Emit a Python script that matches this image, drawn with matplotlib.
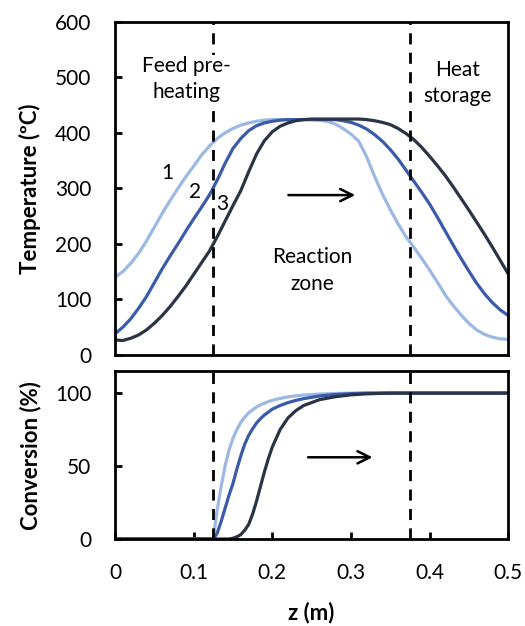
import numpy as np
import matplotlib
matplotlib.use('Agg')
import matplotlib.pyplot as plt

plt.rcParams['font.family'] = ['Lato', 'DejaVu Sans']

# temperature profiles (z every 0.01 m)
z_T = [round(0.01 * i, 2) for i in range(51)]
T1 = [140, 150, 165, 183, 205, 230, 255, 278, 300, 321,
      340, 360, 376, 390, 400, 408, 414, 418, 421, 423,
      424, 424, 424, 424, 424, 424, 423, 421, 416, 408,
      398, 385, 357, 322, 290, 262, 236, 213, 194, 174,
      153, 131, 108, 89, 72, 57, 45, 37, 32, 29, 28]
T2 = [38, 50, 65, 84, 105, 130, 155, 178, 200, 223,
      245, 266, 288, 315, 345, 372, 390, 404, 413, 418,
      421, 423, 424, 424, 424, 424, 424, 424, 424, 422,
      419, 414, 407, 397, 385, 370, 353, 333, 313, 293,
      272, 248, 223, 198, 174, 151, 129, 110, 94, 81, 71]
T3 = [27, 26, 30, 36, 45, 57, 71, 87, 105, 124,
      145, 166, 187, 213, 241, 269, 296, 330, 362, 386,
      402, 412, 418, 422, 424, 425, 425, 425, 425, 425,
      425, 425, 424, 422, 419, 415, 408, 399, 388, 374,
      358, 341, 323, 303, 282, 261, 239, 217, 194, 170, 146]

# conversion profiles
z_X = [0, 0.12, 0.125, 0.13, 0.135, 0.14, 0.145, 0.15, 0.155, 0.16, 0.165, 0.17,
       0.175, 0.18, 0.185, 0.19, 0.195, 0.20, 0.21, 0.22, 0.23, 0.24, 0.26, 0.28,
       0.30, 0.32, 0.35, 0.40, 0.50]
X1 = [0, 0, 0, 20, 36, 50, 61, 69, 75, 80, 83.5, 86.5,
      88.5, 90.5, 92, 93, 94.2, 95, 96.4, 97.4, 98.1, 98.7, 99.3, 99.7,
      100, 100, 100, 100, 100]
X2 = [0, 0, 0, 4, 12, 21, 30, 38, 48, 57, 65, 71,
      75.5, 79.5, 82.5, 85, 87, 89, 91.5, 93.5, 95, 96.2, 98, 99,
      99.6, 100, 100, 100, 100]
X3 = [0, 0, 0, 0, 0, 0, 0, 0.5, 1.5, 3, 6, 10,
      17, 26, 36, 46, 55, 63, 75, 83, 88, 91.5, 95.5, 97.5,
      98.8, 99.5, 100, 100, 100]

colors = ['#9cb8e3', '#3a5baa', '#2b3347']
zones = [0.125, 0.375]

fig = plt.figure(figsize=(5.25, 6.26), dpi=100)
top = fig.add_axes([0.219, 0.433, 0.749, 0.532])
bot = fig.add_axes([0.219, 0.139, 0.749, 0.268])

for T, c in zip([T1, T2, T3], colors):
    top.plot(z_T, T, color=c, lw=2.3, solid_joinstyle='round')
for X, c in zip([X1, X2, X3], colors):
    bot.plot(z_X, X, color=c, lw=2.3, solid_joinstyle='round')

for ax in (top, bot):
    for zz in zones:
        ax.axvline(zz, color='black', lw=2.0, ls=(0, (4, 3)), zorder=3)
    ax.set_xlim(0, 0.5)
    for s in ax.spines.values():
        s.set_linewidth(2.0)
    ax.tick_params(direction='in', length=5, width=2, labelsize=15)
    ax.tick_params(axis='y', pad=17)

top.set_ylim(0, 600)
top.set_yticks(range(0, 601, 100))
top.set_xticks([])
top.set_ylabel('Temperature (ºC)', fontsize=16, fontweight='bold', labelpad=10)

bot.set_ylim(0, 115)
bot.set_yticks([0, 50, 100])
bot.set_xticks([0, 0.1, 0.2, 0.3, 0.4, 0.5])
bot.set_xticklabels(['0', '0.1', '0.2', '0.3', '0.4', '0.5'])
bot.tick_params(axis='x', pad=17)
bot.set_ylabel('Conversion (%)', fontsize=16, fontweight='bold', labelpad=10)
bot.set_xlabel('z (m)', fontsize=16, fontweight='bold', labelpad=14)

fs = 15
top.text(0.091, 497, 'Feed pre-\nheating', ha='center', va='center', fontsize=fs,
         linespacing=1.35, zorder=5,
         bbox=dict(facecolor='white', edgecolor='none', pad=1))
top.text(0.436, 490, 'Heat\nstorage', ha='center', va='center', fontsize=fs, linespacing=1.4)
top.text(0.251, 152, 'Reaction\nzone', ha='center', va='center', fontsize=fs, linespacing=1.45)
top.text(0.066, 328, '1', ha='center', va='center', fontsize=fs)
top.text(0.102, 294, '2', ha='center', va='center', fontsize=fs)
top.text(0.137, 272, '3', ha='center', va='center', fontsize=fs)

arrow = dict(arrowstyle='->', color='black', lw=1.8, mutation_scale=22)
top.annotate('', xy=(0.309, 288), xytext=(0.217, 288), arrowprops=arrow)
bot.annotate('', xy=(0.331, 56), xytext=(0.242, 56), arrowprops=arrow)

fig.savefig('out.png', dpi=100)
